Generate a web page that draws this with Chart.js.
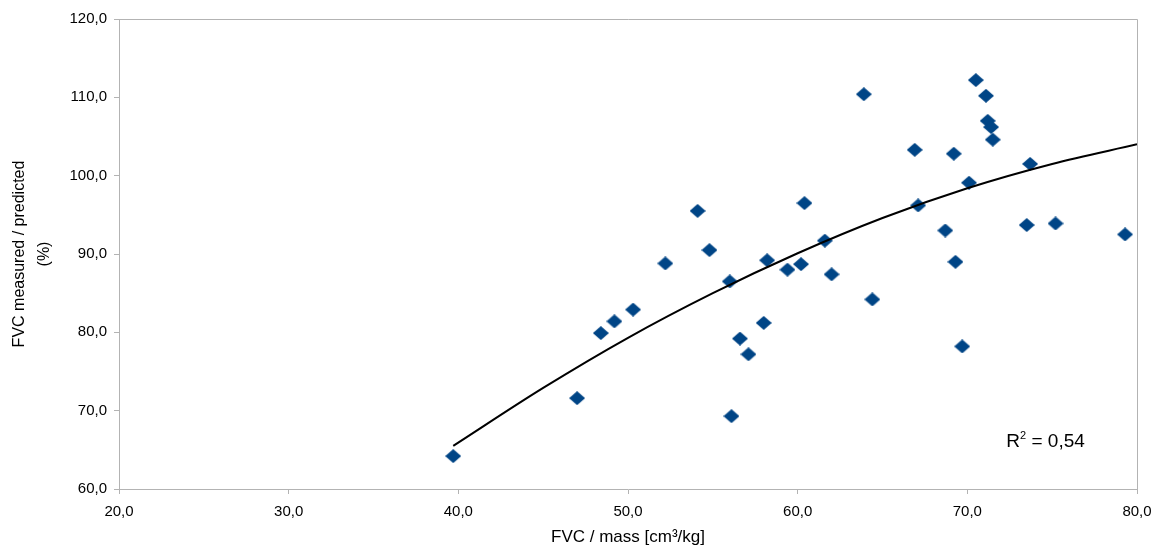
<!DOCTYPE html>
<html>
<head>
<meta charset="utf-8">
<script src="https://cdn.jsdelivr.net/npm/chart.js@4"></script>
<style>
  body { margin: 0; background: #fff; }
  canvas { display: block; }
</style>
</head>
<body>
<canvas id="scatterChart" width="1161" height="554"></canvas>
<script>
// FVC / mass (cm3/kg) y FVC medido / predicho (%) de cada sujeto
const fvcMass = [39.7, 47.0, 48.4, 49.2, 50.3, 52.2, 54.1, 54.8, 56.0, 56.1,
                 56.6, 57.1, 58.0, 58.2, 59.4, 60.2, 60.4, 61.6, 62.0, 63.9,
                 64.4, 66.9, 67.1, 68.7, 69.2, 69.3, 69.7, 70.1, 70.5, 71.1,
                 71.2, 71.4, 71.5, 73.5, 73.7, 75.2, 79.3];
const fvcPct  = [64.2, 71.6, 79.9, 81.4, 82.9, 88.8, 95.5, 90.5, 86.5, 69.3,
                 79.2, 77.2, 81.2, 89.2, 88.0, 88.7, 96.5, 91.7, 87.4, 110.4,
                 84.2, 103.3, 96.2, 93.0, 102.8, 89.0, 78.2, 99.1, 112.2, 110.2,
                 107.0, 106.2, 104.6, 93.7, 101.5, 93.9, 92.5];

// linea de tendencia
const trendX = [39.7, 45, 50, 55, 60, 65, 70, 75, 80];
const trendY = [65.5, 72.9, 79.3, 85.0, 90.1, 94.6, 98.4, 101.5, 104.0];

// etiquetas de los ejes
const xTickLabels = ['20,0', '30,0', '40,0', '50,0', '60,0', '70,0', '80,0'];
const yTickLabels = ['60,0', '70,0', '80,0', '90,0', '100,0', '110,0', '120,0'];
const rSquared = '0,54';

// rombo un poco mas ancho que alto, como en el original
const diamond = document.createElement('canvas');
diamond.width = 16;
diamond.height = 14;
const dctx = diamond.getContext('2d');
dctx.fillStyle = '#004586';
dctx.beginPath();
dctx.moveTo(8, 0);
dctx.lineTo(16, 7);
dctx.lineTo(8, 14);
dctx.lineTo(0, 7);
dctx.closePath();
dctx.fill();

const axisColor = '#b3b3b3';
const font = 'Liberation Sans, Arial, sans-serif';

// marco superior y derecho + texto del R2
const frameAndR2 = {
    id: 'frameAndR2',
    afterDraw(chart) {
        const {ctx, chartArea: a, scales} = chart;
        ctx.save();
        ctx.strokeStyle = axisColor;
        ctx.lineWidth = 1;
        ctx.beginPath();
        ctx.moveTo(a.left, a.top + 0.5);
        ctx.lineTo(a.right + 0.5, a.top + 0.5);
        ctx.lineTo(a.right + 0.5, a.bottom);
        ctx.stroke();

        const x = scales.x.getPixelForValue(72.3);
        const y = scales.y.getPixelForValue(66.0);
        ctx.fillStyle = '#000';
        ctx.textBaseline = 'middle';
        ctx.textAlign = 'left';
        ctx.font = '19px ' + font;
        ctx.fillText('R', x, y);
        let w = ctx.measureText('R').width;
        ctx.font = '11px ' + font;
        ctx.fillText('2', x + w, y - 6);
        w += ctx.measureText('2').width;
        ctx.font = '19px ' + font;
        ctx.fillText(' = ' + rSquared, x + w, y);
        ctx.restore();
    }
};

const ctx = document.getElementById('scatterChart').getContext('2d');

const scatterChart = new Chart(ctx, {
    type: 'scatter',
    data: {
        datasets: [{
            type: 'line',
            label: 'Tendencia',
            data: trendX.map((x, i) => ({x: x, y: trendY[i]})),
            borderColor: '#000',
            borderWidth: 2,
            pointRadius: 0,
            fill: false,
            cubicInterpolationMode: 'monotone'
        }, {
            label: 'FVC',
            data: fvcMass.map((x, i) => ({x: x, y: fvcPct[i]})),
            pointStyle: diamond,
            backgroundColor: '#004586'
        }]
    },
    options: {
        responsive: false,
        animation: false,
        layout: {
            padding: {top: 19, right: 24, left: 0, bottom: 0}
        },
        scales: {
            x: {
                min: 20,
                max: 80,
                afterFit: function(scale) { scale.height = 65; },
                ticks: {
                    stepSize: 10,
                    padding: 9,
                    color: '#000',
                    font: {family: font, size: 15},
                    callback: function(value, index) { return xTickLabels[index]; }
                },
                grid: {drawOnChartArea: false, tickLength: 5, color: axisColor},
                border: {color: axisColor},
                title: {
                    display: true,
                    text: 'FVC / mass [cm\u00b3/kg]',
                    color: '#000',
                    font: {family: font, size: 17, lineHeight: 1.2},
                    padding: {top: 0, bottom: 6}
                }
            },
            y: {
                min: 60,
                max: 120,
                afterFit: function(scale) { scale.width = 119; },
                ticks: {
                    stepSize: 10,
                    padding: 7,
                    color: '#000',
                    font: {family: font, size: 15},
                    callback: function(value, index) { return yTickLabels[index]; }
                },
                grid: {drawOnChartArea: false, tickLength: 5, color: axisColor},
                border: {color: axisColor},
                title: {
                    display: true,
                    text: ['FVC measured / predicted', '(%)'],
                    color: '#000',
                    font: {family: font, size: 16, lineHeight: 1.55},
                    padding: {top: 7, bottom: 0}
                }
            }
        },
        plugins: {
            legend: {display: false},
            tooltip: {enabled: false}
        }
    },
    plugins: [frameAndR2]
});
</script>
</body>
</html>
